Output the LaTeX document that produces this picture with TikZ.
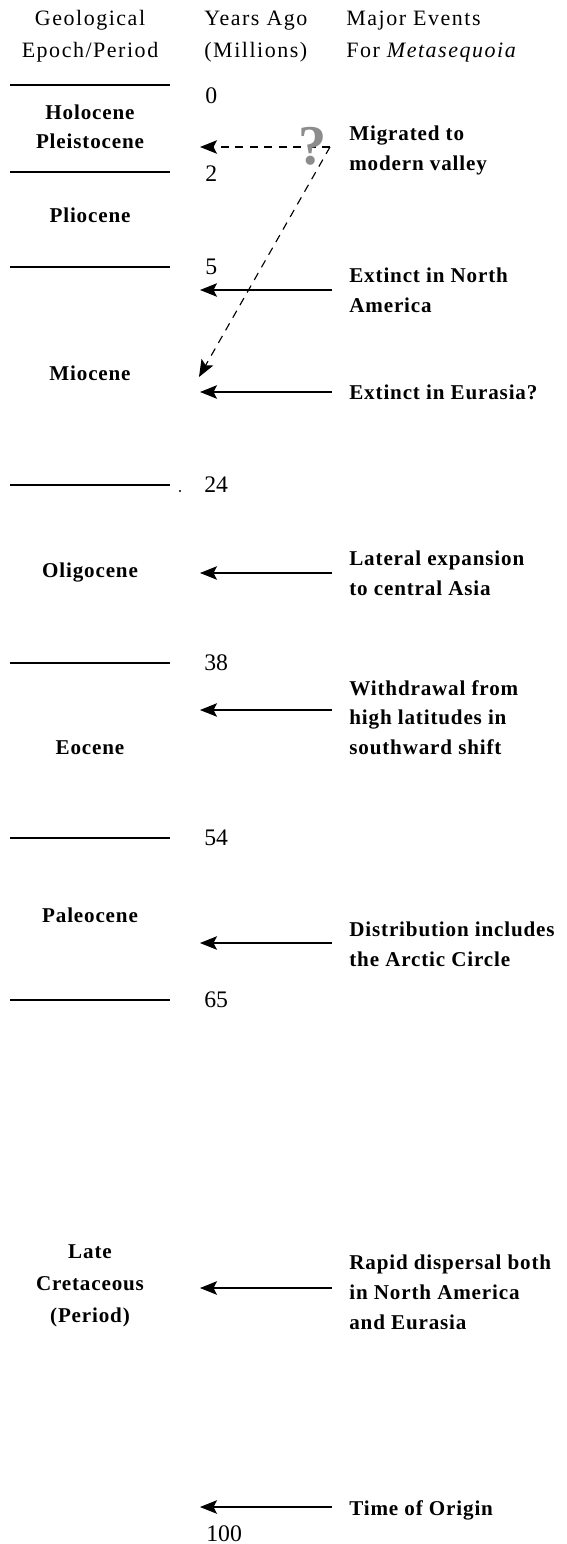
\documentclass[tikz,border=0pt]{standalone}
\usepackage{fontspec}
\setmainfont{Liberation Serif}
\newfontfamily\headfont{Liberation Serif}[LetterSpace=7]
\newfontfamily\labfont{Liberation Serif}[LetterSpace=4]
\usetikzlibrary{arrows.meta}

\tikzset{
  head/.style={font=\fontsize{12.5}{16}\selectfont\headfont, inner sep=0pt, anchor=base},
  epoch/.style={font=\fontsize{12}{18.4}\selectfont\labfont\bfseries, inner sep=0pt, anchor=base, align=center},
  years/.style={font=\fontsize{13.5}{16}\selectfont, inner sep=0pt, anchor=base west},
  event/.style={font=\fontsize{12}{16.8}\selectfont\labfont\bfseries, inner sep=0pt, anchor=north west, align=left},
  divider/.style={line width=0.8pt},
  arr/.style={-{Stealth[length=0.34cm,width=0.27cm,inset=0.07cm]}, line width=0.6pt},
  dasharr/.style={arr, line width=0.65pt, dash pattern=on 0.16cm off 0.13cm}
}

\begin{document}
\begin{tikzpicture}[x=0.02cm,y=-0.02cm]
\useasboundingbox (0,0) rectangle (567,1544);

% column heads
\node[head] (geo1) at (90,26) {Geological};
\node[head] (geo2) at (90,58) {Epoch/Period};
\node[head, anchor=base west] (yrs1) at (204,26) {Years Ago};
\node[head, anchor=base west] (yrs2) at (204,58) {(Millions)};
\node[head, anchor=base west] (maj1) at (346,26) {Major Events};
\node[head, anchor=base west] (maj2) at (346,58) {For \textit{Metasequoia}};

% dividers
\draw[line width=1.4pt] (10,85) -- (170,85);
\draw[divider] (10,172) -- (170,172);
\draw[divider] (10,267) -- (170,267);
\draw[divider] (10,485) -- (170,485);
\fill (180,491) circle (1.2);
\draw[divider] (10,663) -- (170,663);
\draw[divider] (10,838) -- (170,838);
\draw[divider] (10,1000) -- (170,1000);

% years
\node[years] (y0) at (205,104) {0};
\node[years] (y2) at (205,182) {2};
\node[years] (y5) at (205,275) {5};
\node[years] (y24) at (204,492) {24};
\node[years] (y38) at (204,670) {38};
\node[years] (y54) at (204,845) {54};
\node[years] (y65) at (204,1007) {65};
\node[years] (y100) at (206,1541) {100};

% epochs
\node[epoch] (holo) at (90,120) {Holocene};
\node[epoch] (pleis) at (90,149) {Pleistocene};
\node[epoch] (plio) at (90,222) {Pliocene};
\node[epoch] (mio) at (90,380) {Miocene};
\node[epoch] (oligo) at (90,577) {Oligocene};
\node[epoch] (eo) at (90,754) {Eocene};
\node[epoch] (paleo) at (90,922) {Paleocene};
\node[epoch, anchor=north] (cret) at (90,1244) {Late\\Cretaceous\\(Period)};

% events
\node[event] (ev1) at (349,126) {Migrated to\\modern valley};
\node[event] (ev2) at (349,268) {Extinct in North\\America};
\node[event] (ev3) at (349,385) {Extinct in Eurasia?};
\node[event] (ev4) at (349,551) {Lateral expansion\\to central Asia};
\node[event] (ev5) at (349,680) {Withdrawal from\\high latitudes in\\southward shift};
\node[event] (ev6) at (349,922) {Distribution includes\\the Arctic Circle};
\node[event] (ev7) at (349,1255) {Rapid dispersal both\\in North America\\and Eurasia};
\node[event] (ev8) at (349,1500) {Time of Origin};

% arrows
\coordinate (turn) at (330,147);
\coordinate (tq) at (200,147);
\coordinate (tm) at (199,377);
\draw[dasharr] (turn) -- (tq);
\draw[dasharr] (turn) -- (tm);
\node[font=\fontsize{32}{32}\selectfont\bfseries, text=black!45, inner sep=0pt] (qm) at (313,146) {?};

\coordinate (s2) at (332,290);  \coordinate (t2) at (200,290);
\coordinate (s3) at (332,392);  \coordinate (t3) at (200,392);
\coordinate (s4) at (332,573);  \coordinate (t4) at (200,573);
\coordinate (s5) at (332,710);  \coordinate (t5) at (200,710);
\coordinate (s6) at (332,943);  \coordinate (t6) at (200,943);
\coordinate (s7) at (332,1288); \coordinate (t7) at (200,1288);
\coordinate (s8) at (332,1507); \coordinate (t8) at (200,1507);
\draw[arr] (s2) -- (t2);
\draw[arr] (s3) -- (t3);
\draw[arr] (s4) -- (t4);
\draw[arr] (s5) -- (t5);
\draw[arr] (s6) -- (t6);
\draw[arr] (s7) -- (t7);
\draw[arr] (s8) -- (t8);
\end{tikzpicture}
\end{document}
